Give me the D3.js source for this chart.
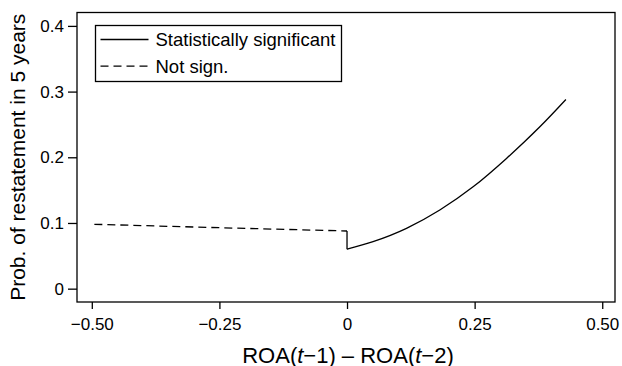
<!DOCTYPE html>
<html>
<head>
<meta charset="utf-8">
<script src="https://cdn.jsdelivr.net/npm/d3@7"></script>
<style>
  body { margin: 0; background: #fff; }
  svg { display: block; font-family: "Liberation Sans", Arial, Helvetica, sans-serif; }
</style>
</head>
<body>
<svg id="chart" width="622" height="366"></svg>
<script>
// values
const notSignX = [-0.495, -0.25, 0];
const notSignY = [0.098, 0.0928, 0.0878];

const signX = [0, 0.051, 0.1165, 0.1818, 0.247, 0.3124, 0.3778, 0.4288];
const signY = [0.0600, 0.0715, 0.0918, 0.1197, 0.155, 0.1983, 0.2464, 0.288];

const xTicks = [-0.5, -0.25, 0, 0.25, 0.5];
const xTickLabels = ["\u22120.50", "\u22120.25", "0", "0.25", "0.50"];
const yTicks = [0, 0.1, 0.2, 0.3, 0.4];
const yTickLabels = ["0", "0.1", "0.2", "0.3", "0.4"];

const legendLabels = ["Statistically significant", "Not sign."];

const svg = d3.select("#chart");

const plotLeft = 77, plotRight = 615, plotTop = 12.5, plotBottom = 302;

const x = d3.scaleLinear().domain([-0.529, 0.525]).range([plotLeft, plotRight]);
const y = d3.scaleLinear().domain([-0.0203, 0.4204]).range([plotBottom, plotTop]);

// frame
svg.append("rect")
    .attr("x", plotLeft)
    .attr("y", plotTop)
    .attr("width", plotRight - plotLeft)
    .attr("height", plotBottom - plotTop)
    .attr("fill", "none")
    .attr("stroke", "black")
    .attr("stroke-width", 1.3);

const xAxis = svg.append("g")
    .attr("transform", "translate(0," + plotBottom + ")")
    .call(d3.axisBottom(x)
        .tickValues(xTicks)
        .tickFormat((d, i) => xTickLabels[i])
        .tickSize(7)
        .tickPadding(9));

const yAxis = svg.append("g")
    .attr("transform", "translate(" + plotLeft + ",0)")
    .call(d3.axisLeft(y)
        .tickValues(yTicks)
        .tickFormat((d, i) => yTickLabels[i])
        .tickSize(9)
        .tickPadding(4));

[xAxis, yAxis].forEach(a => {
    a.select(".domain").remove();
    a.selectAll(".tick line").attr("stroke", "black").attr("stroke-width", 1.3);
    a.selectAll(".tick text")
        .attr("fill", "black")
        .style("font-size", "17px")
        .style("font-family", "'Liberation Sans', Arial, sans-serif");
});

// axis titles
const xTitle = svg.append("text")
    .attr("x", (plotLeft + plotRight) / 2 + 2)
    .attr("y", 362.5)
    .attr("text-anchor", "middle")
    .style("font-size", "22px");
xTitle.append("tspan").text("ROA(");
xTitle.append("tspan").attr("font-style", "italic").text("t");
xTitle.append("tspan").text("\u22121) \u2013 ROA(");
xTitle.append("tspan").attr("font-style", "italic").text("t");
xTitle.append("tspan").text("\u22122)");

svg.append("text")
    .attr("transform", "translate(25," + ((plotTop + plotBottom) / 2) + ") rotate(-90)")
    .attr("text-anchor", "middle")
    .style("font-size", "21px")
    .text("Prob. of restatement in 5 years");

// series
const dashedLine = d3.line()
    .x((d, i) => x(notSignX[i]))
    .y(d => y(d))
    .curve(d3.curveLinear);

svg.append("path")
    .attr("d", dashedLine(notSignY))
    .attr("fill", "none")
    .attr("stroke", "black")
    .attr("stroke-width", 1.3)
    .attr("stroke-dasharray", "8,5");

// jump at zero between the two pieces
svg.append("line")
    .attr("x1", x(signX[0]))
    .attr("x2", x(signX[0]))
    .attr("y1", y(notSignY[notSignY.length - 1]))
    .attr("y2", y(signY[0]))
    .attr("stroke", "black")
    .attr("stroke-width", 1.3);

const solidLine = d3.line()
    .x((d, i) => x(signX[i]))
    .y(d => y(d))
    .curve(d3.curveMonotoneX);

svg.append("path")
    .attr("d", solidLine(signY))
    .attr("fill", "none")
    .attr("stroke", "black")
    .attr("stroke-width", 1.3);

// legend
const legend = svg.append("g").attr("class", "legend");

legend.append("rect")
    .attr("x", 95.5)
    .attr("y", 25.5)
    .attr("width", 246)
    .attr("height", 56)
    .attr("fill", "white")
    .attr("stroke", "black")
    .attr("stroke-width", 1.3);

legendLabels.forEach((label, i) => {
    const ly = 39.5 + i * 26.7;
    legend.append("line")
        .attr("x1", 100.5)
        .attr("x2", 148.5)
        .attr("y1", ly)
        .attr("y2", ly)
        .attr("stroke", "black")
        .attr("stroke-width", 1.3)
        .attr("stroke-dasharray", i === 1 ? "8,5" : null);
    legend.append("text")
        .attr("x", 155.5)
        .attr("y", ly)
        .attr("dy", "0.36em")
        .style("font-size", "18.5px")
        .text(label);
});
</script>
</body>
</html>
